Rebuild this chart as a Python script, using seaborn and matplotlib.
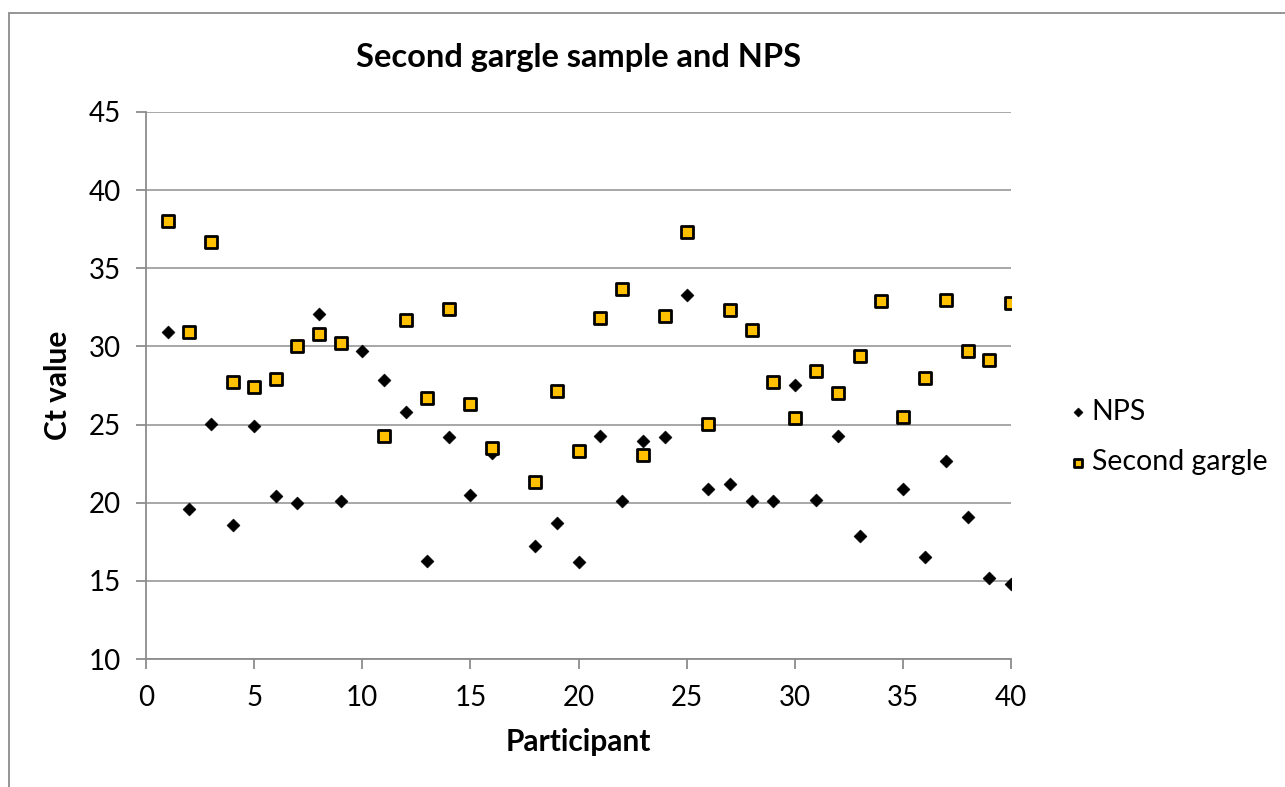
"""Second gargle sample vs NPS Ct values per participant."""

import matplotlib
matplotlib.use("Agg")

import matplotlib.pyplot as plt
import numpy as np
import pandas as pd
import seaborn as sns
from matplotlib.patches import Rectangle

participants = list(range(1, 41))

nps = [30.9, 19.6, 25.05, 18.6, 24.9, 20.4, 20.0, 32.1, 20.1, 29.7,
       27.85, 25.8, 16.3, 24.2, 20.5, 23.2, np.nan, 17.2, 18.7, 16.2,
       24.3, 20.1, 23.95, 24.2, 33.3, 20.9, 21.2, 20.1, 20.1, 27.5,
       20.2, 24.3, 17.9, np.nan, 20.9, 16.55, 22.7, 19.1, 15.2, 14.8]

gargle = [38.0, 30.9, 36.7, 27.7, 27.4, 27.9, 30.05, 30.8, 30.25, np.nan,
          24.25, 31.7, 26.7, 32.4, 26.3, 23.5, np.nan, 21.3, 27.15, 23.3,
          31.8, 33.7, 23.05, 31.95, 37.35, 25.05, 32.3, 31.05, 27.75, 25.4,
          28.45, 27.05, 29.4, 32.9, 25.5, 28.0, 33.0, 29.7, 29.1, 32.8]

df = pd.DataFrame({"participant": participants, "NPS": nps, "Second gargle": gargle})

sns.set_theme(style="white")
plt.rcParams["font.family"] = ["Lato", "DejaVu Sans"]
plt.rcParams.update({"text.color": "black", "axes.labelcolor": "black"})

fig = plt.figure(figsize=(12.85, 7.87), dpi=100)
W, H = 1285, 787
ax = fig.add_axes([146 / W, (H - 659) / H, (1011 - 146) / W, (659 - 112) / H])

# chart border (only top/left visible in the reference)
fig.patches.append(Rectangle((9 / W, -0.1), 1.2, (H - 12.5) / H + 0.1,
                             transform=fig.transFigure, fill=False,
                             edgecolor="#8c8c8c", lw=1.3))

sns.scatterplot(data=df, x="participant", y="NPS", ax=ax, marker="D",
                s=45, color="black", edgecolor="black", linewidth=0.3,
                label="NPS", zorder=3)
sns.scatterplot(data=df, x="participant", y="Second gargle", ax=ax, marker="s",
                s=70, color="#FFC000", edgecolor="black", linewidth=2.0,
                label="Second gargle", zorder=4)

ax.set_xlim(0, 40)
ax.set_ylim(10, 45)
ax.set_xticks(range(0, 41, 5))
ax.set_yticks(range(10, 46, 5))
ax.yaxis.grid(True, color="#a0a0a0", lw=1.3)
ax.set_axisbelow(True)
for side in ["top", "right"]:
    ax.spines[side].set_visible(False)
for side in ["left", "bottom"]:
    ax.spines[side].set_color("#8c8c8c")
    ax.spines[side].set_linewidth(1.3)
ax.tick_params(axis="both", which="major", labelsize=20, labelcolor="black",
               length=7, width=1.3, color="#8c8c8c", direction="out")
ax.tick_params(axis="y", pad=11)
ax.tick_params(axis="x", pad=12)
ax.xaxis.set_ticks_position("bottom")
ax.yaxis.set_ticks_position("left")

ax.set_xlabel("Participant", fontsize=21.5, fontweight="bold", labelpad=12)
ax.set_ylabel("Ct value", fontsize=21.5, fontweight="bold", labelpad=12)
fig.text(0.5 * (146 + 1011) / W, (H - 57) / H, "Second gargle sample and NPS",
         ha="center", va="center", fontsize=23.5, fontweight="bold")

ax.legend_.remove()
handles, labels = ax.get_legend_handles_labels()
fig.legend(handles, labels, loc="center left", bbox_to_anchor=(1052 / W, (H - 437) / H),
           frameon=False, fontsize=20.5, handletextpad=0.0, handlelength=1.0,
           labelspacing=0.85, markerscale=0.7, borderaxespad=0)

fig.savefig("out.png", dpi=100)
plt.close(fig)
